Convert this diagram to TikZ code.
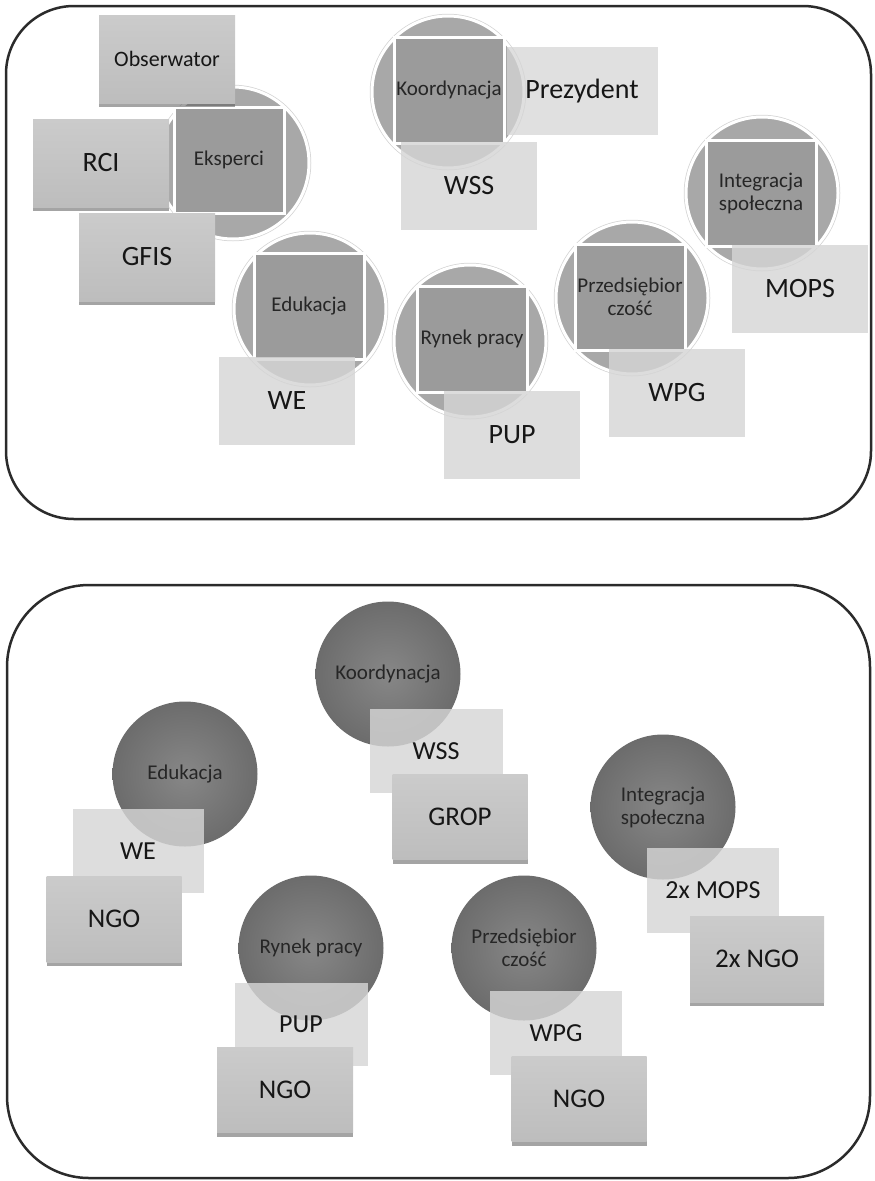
\documentclass[tikz,border=0pt]{standalone}
\usepackage{fontspec}
\setmainfont{Carlito}
\usetikzlibrary{shadows}
\definecolor{panelline}{HTML}{2B2B2B}
\definecolor{ringfill}{HTML}{A8A8A8}
\definecolor{ringhalo}{HTML}{D4D4D4}
\definecolor{sqfill}{HTML}{9B9B9B}
\definecolor{litefill}{HTML}{D5D5D5}
\definecolor{boxtop}{HTML}{CBCBCB}
\definecolor{boxbottom}{HTML}{BDBDBD}
\definecolor{ballin}{HTML}{878787}
\definecolor{ballout}{HTML}{6C6C6C}
\definecolor{labeltext}{HTML}{262626}
\definecolor{boxtext}{HTML}{161616}
\begin{document}
\begin{tikzpicture}[x=1pt,y=-1pt]
\tikzstyle{every node}+=[inner sep=0pt]
\tikzstyle{panel}=[draw=panelline, line width=2.5pt]
\tikzstyle{ringtop}=[circle, fill=ringfill, draw=white, line width=3pt, minimum size=152pt, preaction={draw=ringhalo, line width=4.5pt}]
\tikzstyle{sqtop}=[rectangle, fill=sqfill, draw=white, line width=3pt, minimum width=110pt, minimum height=106pt, align=center, text=labeltext, font=\fontsize{21}{23}\selectfont]
\tikzstyle{litebox}=[rectangle, fill=litefill, fill opacity=0.82, text opacity=1, text=boxtext, minimum width=136pt, minimum height=88pt, font=\fontsize{28}{30}\selectfont]
\tikzstyle{shadebox}=[rectangle, top color=boxtop, bottom color=boxbottom, text=boxtext, minimum width=136pt, minimum height=88pt, drop shadow={shadow xshift=0pt, shadow yshift=-4pt, opacity=0.55, fill=black!65}, font=\fontsize{28}{30}\selectfont]
\tikzstyle{ballbot}=[circle, inner color=ballin, outer color=ballout, minimum size=145pt, align=center, text=labeltext, font=\fontsize{21}{23}\selectfont]
\useasboundingbox (0,0) rectangle (875,1181);
\draw[panel, rounded corners=68pt] (6,6) rectangle (871,519);
\draw[panel, rounded corners=82pt] (7,585) rectangle (870,1178);
\node[ringtop] (eksring) at (233,163) {};
\node[sqtop] (eks) at (229,160) {Eksperci};
\node[shadebox] (rci) at (101,163) {RCI};
\node[shadebox, font=\fontsize{22}{24}\selectfont] (obs) at (167,59) {Obserwator};
\node[shadebox] (gfis) at (147,257) {GFIS};
\node[ringtop] (koring) at (448,92) {};
\node[sqtop] (ko) at (449,90) {Koordynacja};
\node[litebox, minimum width=151pt, fill opacity=0.75] (prez) at (582,91) {Prezydent};
\node[litebox] (wss) at (469,186) {WSS};
\node[ringtop] (intring) at (762,193) {};
\node[sqtop] (int) at (761,193) {Integracja\\społeczna};
\node[litebox] (mops) at (800,289) {MOPS};
\node[ringtop] (edring) at (310,309) {};
\node[sqtop] (ed) at (309,306) {Edukacja};
\node[litebox] (we) at (287,401) {WE};
\node[ringtop] (rpring) at (470,341) {};
\node[sqtop] (rp) at (472,339) {Rynek pracy};
\node[litebox] (pup) at (512,435) {PUP};
\node[ringtop] (prring) at (632,298) {};
\node[sqtop] (pr) at (630,297) {Przedsiębior\\czość};
\node[litebox] (wpg) at (677,393) {WPG};
\node[ballbot] (kob) at (388,674) {Koordynacja};
\node[ballbot] (edb) at (185,774) {Edukacja};
\node[ballbot] (intb) at (663,807) {Integracja\\społeczna};
\node[ballbot] (rpb) at (311,948) {Rynek pracy};
\node[ballbot] (prb) at (524,948) {Przedsiębior\\czość};
\node[litebox, minimum width=133pt, minimum height=84pt, font=\fontsize{26}{28}\selectfont] (wssb) at (436,751) {WSS};
\node[shadebox, minimum width=135pt, minimum height=85pt, font=\fontsize{27}{29}\selectfont] (grop) at (460,817) {GROP};
\node[litebox, minimum width=131pt, minimum height=84pt, font=\fontsize{26}{28}\selectfont] (web) at (138,851) {WE};
\node[shadebox, minimum width=135pt, minimum height=86pt, font=\fontsize{27}{29}\selectfont] (ngoa) at (114,919) {NGO};
\node[litebox, minimum width=132pt, minimum height=85pt, font=\fontsize{26}{28}\selectfont] (mopsb) at (713,890) {2x MOPS};
\node[shadebox, minimum width=134pt, minimum height=86pt, font=\fontsize{27}{29}\selectfont] (ngob) at (757,959) {2x NGO};
\node[litebox, minimum width=133pt, minimum height=83pt, font=\fontsize{26}{28}\selectfont] (pupb) at (301,1024) {PUP};
\node[shadebox, minimum width=136pt, minimum height=85pt, font=\fontsize{27}{29}\selectfont] (ngoc) at (285,1090) {NGO};
\node[litebox, minimum width=132pt, minimum height=84pt, font=\fontsize{26}{28}\selectfont] (wpgb) at (556,1033) {WPG};
\node[shadebox, minimum width=135pt, minimum height=85pt, font=\fontsize{27}{29}\selectfont] (ngod) at (579,1099) {NGO};
\end{tikzpicture}
\end{document}
